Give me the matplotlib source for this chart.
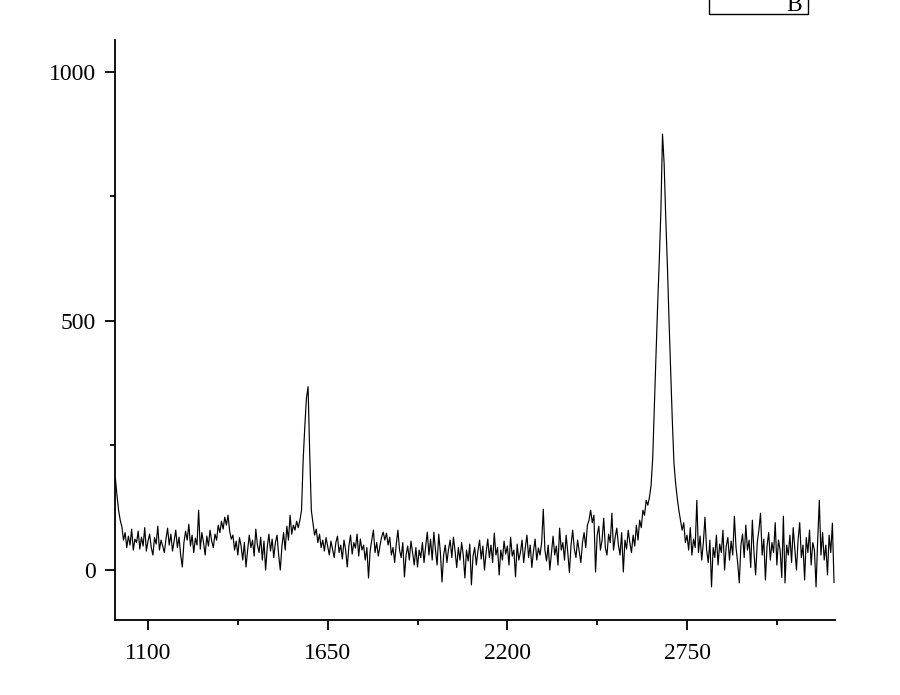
import numpy as np
import matplotlib
matplotlib.use("Agg")
import matplotlib.pyplot as plt
from matplotlib.patches import Rectangle

# Raman shift grid (cm^-1): start, step
shift_start = 1000
shift_step = 5

# Intensity, segment by segment (step 5 cm^-1)
seg_1000_1295 = [185, 150, 120, 100, 87, 60, 75, 45, 68, 50, 82, 40, 62, 55, 78, 42, 66, 48, 85, 38,
                 58, 72, 45, 30, 65, 52, 88, 40, 60, 48, 35, 62, 84, 50, 72, 38, 58, 80, 45, 66,
                 30, 6, 55, 78, 60, 92, 48, 70, 35, 64, 50, 120, 42, 75, 55, 30, 68, 48, 80, 58]
seg_1300_1595 = [45, 72, 60, 90, 75, 98, 82, 106, 90, 110, 78, 62, 70, 40, 58, 30, 65, 48, 20, 55,
                 6, 40, 70, 45, 60, 28, 82, 50, 35, 66, 20, 58, 0, 45, 72, 38, 62, 25, 55, 70,
                 30, 0, 48, 75, 40, 88, 60, 110, 72, 90, 80, 98, 85, 100, 120, 221, 288, 345, 368, 235]
seg_1600_1895 = [120, 94, 70, 82, 55, 72, 45, 60, 38, 65, 48, 30, 58, 42, 25, 55, 68, 35, 50, 22,
                 60, 40, 6, 48, 70, 32, 55, 44, 72, 28, 62, 40, 50, 20, 45, -16, 38, 60, 80, 35,
                 55, 28, 48, 66, 76, 60, 74, 50, 66, 30, 45, 15, 52, 80, 40, 25, 55, -14, 30, 48]
seg_1900_2195 = [20, 58, 35, 10, 45, 6, 40, 25, 55, 15, 48, 76, 30, 62, 20, 76, 40, 10, 72, 35,
                 -24, 30, 50, 15, 42, 60, 25, 66, 38, 5, 45, 20, 55, 30, -16, 40, 18, 52, -30, 28,
                 45, 10, 38, 60, 22, 48, 0, 35, 62, 25, 50, 15, 74, 30, 45, -10, 40, 20, 58, 32]
seg_2200_2495 = [48, 10, 66, 28, 40, -14, 52, 20, 35, 60, 15, 45, 70, 25, 50, 5, 38, 62, 20, 44,
                 30, 55, 122, 40, 18, 50, 0, 35, 68, 30, 48, 10, 84, 40, 55, 20, 70, 35, -5, 50,
                 80, 42, 25, 60, 38, 15, 55, 75, 45, 90, 100, 120, 95, 110, -4, 70, 88, 40, 60, 104]
seg_2500_2795 = [45, 30, 72, 55, 114, 40, 65, 84, 50, 30, 75, -4, 60, 42, 80, 55, 35, 70, 48, 90,
                 60, 100, 85, 120, 110, 140, 130, 146, 170, 225, 330, 430, 530, 620, 720, 875, 815, 705, 610, 500,
                 400, 300, 215, 175, 145, 120, 100, 80, 95, 55, 70, 40, 85, 30, 62, 45, 140, 35, 68, 20]
seg_2800_3200 = [55, 106, 40, 15, 60, -34, 45, 25, 70, 10, 52, 35, 80, 0, 48, 65, 20, 58, 30, 108,
                 45, 15, -26, 50, 72, 25, 90, 40, 60, 5, 100, 35, -10, 55, 80, 114, 30, 62, -20, 48,
                 75, 20, 55, 35, 95, 10, 60, 40, -15, 108, -26, 50, 30, 70, 15, 85, 42, 0, 60, 95,
                 25, 50, -20, 65, 35, 80, 10, 55, 40, -34, 60, 140, 30, 75, 20, 50, -10, 70, 35, 94, -25]

intensity = np.array(seg_1000_1295 + seg_1300_1595 + seg_1600_1895 + seg_1900_2195
                     + seg_2200_2495 + seg_2500_2795 + seg_2800_3200, dtype=float)
shift = shift_start + shift_step * np.arange(len(intensity))

x_major = [1100, 1650, 2200, 2750]
x_minor = [1375, 1925, 2475, 3025]
y_major = [0, 500, 1000]
y_minor = [250, 750]
legend_label = "B"

plt.rcParams['font.family'] = ['Liberation Serif', 'DejaVu Serif']

fig = plt.figure(figsize=(9, 6.95), dpi=100)
ax = fig.add_axes([115/900, 1-620/695, 720/900, 580/695])
ax.plot(shift, intensity, color='black', lw=0.85)

ax.set_xlim(999, 3203)
ax.set_ylim(-100.4, 1064)
ax.set_xticks(x_major)
ax.set_xticks(x_minor, minor=True)
ax.set_yticks(y_major)
ax.set_yticks(y_minor, minor=True)
for s in ['top', 'right']:
    ax.spines[s].set_visible(False)
for s in ['left', 'bottom']:
    ax.spines[s].set_linewidth(1.3)
ax.tick_params(which='major', direction='out', length=7.5, width=1.3, labelsize=17)
ax.tick_params(axis='x', which='major', pad=9)
ax.tick_params(axis='y', which='major', pad=6)
ax.tick_params(which='minor', direction='out', length=3.5, width=1.3)

# partially visible legend box at the top edge
fig.patches.append(Rectangle((709/900, 1-14/695), 99/900, 30/695, transform=fig.transFigure,
                             fill=False, edgecolor='black', lw=1.0))
fig.text(802/900, 1-11/695, legend_label, ha='right', va='baseline', fontsize=17)

fig.savefig('out.png', dpi=100)
